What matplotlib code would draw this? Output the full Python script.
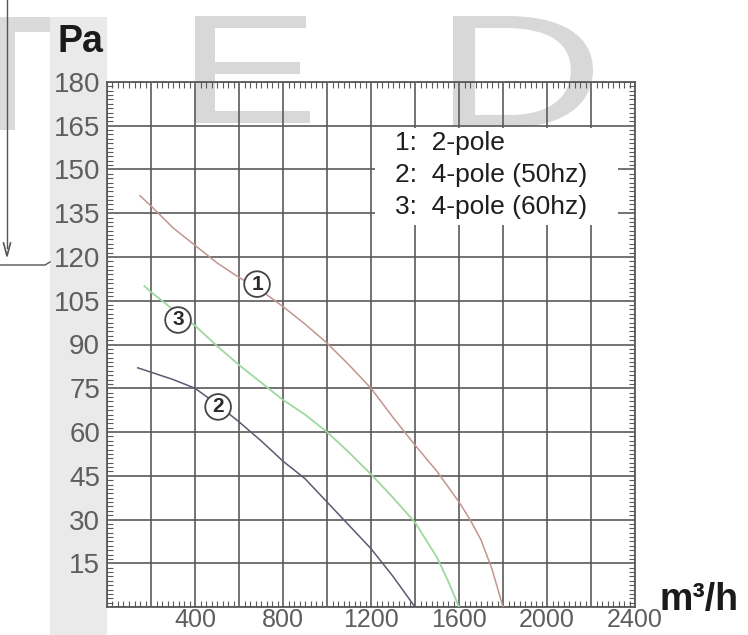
import matplotlib
matplotlib.use("Agg")
import matplotlib.pyplot as plt
from matplotlib.ticker import MultipleLocator, FixedLocator
from matplotlib.textpath import TextPath
from matplotlib.patches import PathPatch, Rectangle
from matplotlib.font_manager import FontProperties
from matplotlib.transforms import Affine2D
from matplotlib.lines import Line2D

# === DATA ===
flow_2pole = [150, 200, 300, 400, 500, 600, 700, 800, 900, 1000, 1100, 1200,
              1300, 1400, 1500, 1600, 1650, 1700, 1750, 1800]
pa_2pole = [141, 137.5, 130, 124, 118, 113, 108.5, 103, 97, 90.5, 83, 75,
            65, 55.5, 46.5, 36, 30, 23, 13, 0]

flow_4pole_50 = [140, 200, 300, 400, 500, 600, 700, 800, 900, 1000, 1100,
                 1200, 1300, 1400]
pa_4pole_50 = [82, 80.5, 78, 75, 69.5, 63.5, 57, 50, 44, 36, 28, 20, 10.5, 0]

flow_4pole_60 = [170, 200, 300, 400, 500, 600, 700, 800, 900, 1000, 1100,
                 1200, 1300, 1400, 1500, 1550, 1600]
pa_4pole_60 = [110, 108, 102, 96.5, 89.5, 83, 77, 71, 66, 60, 53, 45.5,
               37.5, 29, 17, 9, 0]

legend_lines = ["1:  2-pole", "2:  4-pole (50hz)", "3:  4-pole (60hz)"]
x_ticks = [400, 800, 1200, 1600, 2000, 2400]
y_ticks = [15, 30, 45, 60, 75, 90, 105, 120, 135, 150, 165, 180]

W, H = 748, 635
GRID = "#5a5a5a"
plt.rcParams["font.family"] = ["Liberation Sans", "DejaVu Sans"]

fig = plt.figure(figsize=(W / 100, H / 100), dpi=100, facecolor="white")


def px_box(x0, y0, x1, y1):
    # image pixel box (top-down) -> display coords
    return x0, H - y1, x1, H - y0


def watermark(ch, x0, y0, x1, y1):
    tp = TextPath((0, 0), ch, size=1, prop=FontProperties(family="Liberation Sans"))
    ext = tp.get_extents()
    bx0, by0, bx1, by1 = px_box(x0, y0, x1, y1)
    tr = (Affine2D().translate(-ext.x0, -ext.y0)
          .scale((bx1 - bx0) / ext.width, (by1 - by0) / ext.height)
          .translate(bx0, by0))
    fig.add_artist(PathPatch(tp, transform=tr, facecolor="#d8d8d8",
                             edgecolor="none", zorder=0))


# scanned page leftovers: gray band, watermark, arrow line
fig.add_artist(Rectangle((50, 0), 57, H - 17, transform=None,
                         facecolor="#eaeaea", edgecolor="none", zorder=0))
fig.add_artist(Rectangle((0, H - 130), 15, 113, transform=None,
                         facecolor="#dadada", edgecolor="none", zorder=0))
fig.add_artist(Rectangle((0, H - 32), 50, 15, transform=None,
                         facecolor="#dadada", edgecolor="none", zorder=0))
watermark("E", 195, 16, 310, 123)
watermark("D", 453, 16, 593, 127)
fig.add_artist(Line2D([7, 7], [H, H - 248], transform=None, color="#555555", lw=1))
fig.add_artist(Line2D([3.5, 7, 10.5], [H - 243, H - 256, H - 243], transform=None,
                      color="#555555", lw=1.2))
fig.add_artist(Line2D([0, 45, 50], [H - 265, H - 265, H - 262], transform=None,
                      color="#555555", lw=1))

ax = fig.add_axes([107 / W, 28 / H, 528 / W, 525 / H])
ax.set_facecolor("none")
ax.set_xlim(0, 2400)
ax.set_ylim(0, 180)

ax.plot(flow_2pole, pa_2pole, color="#c39590", lw=1.1, zorder=3)
ax.plot(flow_4pole_60, pa_4pole_60, color="#9fd89f", lw=1.3, zorder=3)
ax.plot(flow_4pole_50, pa_4pole_50, color="#5f5870", lw=1.1, zorder=3)

# grid every 200 m3/h and 15 Pa
ax.xaxis.set_major_locator(MultipleLocator(200))
ax.yaxis.set_major_locator(FixedLocator([0] + y_ticks))
ax.set_xticklabels([str(int(v)) if v in x_ticks else "" for v in ax.get_xticks()])
ax.set_yticklabels([""] + [str(v) for v in y_ticks])
ax.xaxis.set_minor_locator(MultipleLocator(25))
ax.yaxis.set_minor_locator(MultipleLocator(1.5))
ax.grid(True, which="major", color=GRID, lw=1.2, zorder=1)
ax.tick_params(which="major", length=0, labelcolor="#5e5e5e")
ax.tick_params(axis="x", which="major", pad=1, labelsize=18)
ax.tick_params(axis="y", which="major", pad=5, labelsize=20)
ax.tick_params(which="minor", direction="in", length=4, width=0.8, color=GRID,
               top=True, right=True)
for sp in ax.spines.values():
    sp.set_color(GRID)
    sp.set_linewidth(1.3)

# legend box
ax.add_patch(Rectangle((0.508, 0.728), 0.46, 0.185, transform=ax.transAxes,
                       facecolor="white", edgecolor="none", zorder=2))
for i, line in enumerate(legend_lines):
    ax.text(0.5455, 0.884 - i * 0.061, line, transform=ax.transAxes, fontsize=19,
            color="#1e1e1e", va="center", ha="left", zorder=4)

# circled curve numbers
for num, (lx, ly) in zip(["1", "3", "2"], [(682, 110.7), (323, 98.4), (505, 68.6)]):
    ax.text(lx, ly, num, fontsize=15, fontweight="bold", color="#2a2a2a",
            ha="center", va="center", zorder=5,
            bbox=dict(boxstyle="circle,pad=0.16", facecolor="white",
                      edgecolor="#444444", lw=1.3))

fig.text(58 / W, 1 - 42 / H, "Pa", fontsize=27, fontweight="bold",
         color="#1a1a1a", ha="left", va="center")
fig.text(660 / W, 25 / H, "m³/h", fontsize=27, fontweight="bold",
         color="#1a1a1a", ha="left", va="baseline")

fig.savefig("out.png", dpi=100, facecolor="white")
